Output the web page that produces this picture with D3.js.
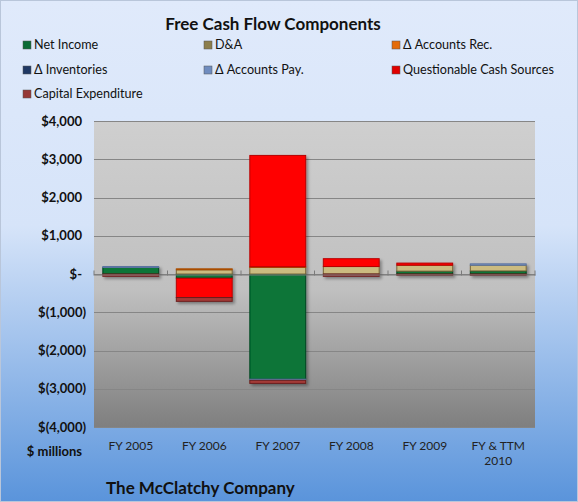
<!DOCTYPE html>
<html>
<head>
<meta charset="utf-8">
<script src="https://cdn.jsdelivr.net/npm/d3@7"></script>
<style>
  body { margin: 0; }
  svg { display: block; font-family: Lato, "Open Sans", sans-serif; }
</style>
</head>
<body>
<div class="container"></div>
<script>
// chart data ($ millions)
const categories = ["FY 2005", "FY 2006", "FY 2007", "FY 2008", "FY 2009", "FY & TTM 2010"]
const seriesNames = ["Net Income", "D&A", "Δ Accounts Rec.", "Δ Inventories", "Δ Accounts Pay.", "Questionable Cash Sources", "Capital Expenditure"]
const netIncome = [170, -110, -2750, 0, 75, 80]
const dna = [0, 110, 170, 195, 155, 150]
const accountsRec = [0, 25, 20, 0, 0, 0]
const inventories = [0, 0, 0, 0, 0, 0]
const accountsPay = [25, 0, -30, 0, 0, 35]
const questionable = [0, -505, 2910, 205, 55, 0]
const capex = [-60, -100, -80, -60, -35, -35]
const yTicks = [4000, 3000, 2000, 1000, 0, -1000, -2000, -3000, -4000]

const seriesValues = [netIncome, dna, accountsRec, inventories, accountsPay, questionable, capex]
const fills = ["#077539", "#cbbb80", "#e46c0a", "#1f3864", "#8aa2cc", "#ff0000", "#a33a38"]
const strokes = ["#03461f", "#776638", "#a84d06", "#10203d", "#5a73a0", "#b80000", "#6b1f1d"]
const legendFills = ["#0b6b35", "#8c7e4c", "#e46c0a", "#1f3864", "#6f8cbf", "#e00000", "#953735"]

const W = 578, H = 502
const margin = { top: 121, left: 94, right: 43, bottom: 75 }
const width = W - margin.left - margin.right
const height = H - margin.top - margin.bottom

const svg = d3.select('.container').append('svg')
  .attr('width', W)
  .attr('height', H)

const defs = svg.append('defs')
const bg = defs.append('linearGradient').attr('id', 'bg').attr('x1', 0).attr('y1', 0).attr('x2', 0).attr('y2', 1)
bg.append('stop').attr('offset', '0%').attr('stop-color', '#e0eafb')
bg.append('stop').attr('offset', '45%').attr('stop-color', '#d6e4f9')
bg.append('stop').attr('offset', '100%').attr('stop-color', '#5a94db')

const plotBg = defs.append('linearGradient').attr('id', 'plotbg').attr('x1', 0).attr('y1', 0).attr('x2', 0).attr('y2', 1)
plotBg.append('stop').attr('offset', '0%').attr('stop-color', '#cfcfcf')
plotBg.append('stop').attr('offset', '55%').attr('stop-color', '#c0c0c0')
plotBg.append('stop').attr('offset', '100%').attr('stop-color', '#7f7f7f')

defs.append('filter').attr('id', 'shadow').attr('x', '-20%').attr('y', '-20%').attr('width', '140%').attr('height', '140%')
  .append('feDropShadow').attr('dx', 2).attr('dy', 2).attr('stdDeviation', 1.5)
  .attr('flood-color', '#000').attr('flood-opacity', 0.35)

// outer background
svg.append('rect')
  .attr('x', 0.5).attr('y', 0.5)
  .attr('width', W - 1).attr('height', H - 1)
  .attr('fill', 'url(#bg)')
  .attr('stroke', '#b9c6da')

// title
svg.append('text')
  .attr('x', 273).attr('y', 30)
  .attr('text-anchor', 'middle')
  .style('font-size', '17px').style('font-weight', 'bold')
  .attr('fill', '#111')
  .text('Free Cash Flow Components')

// legend
const legendX = [23, 204, 392]
const legendY = [45, 70, 94]
const legend = svg.append('g').attr('id', 'legend')
  .selectAll('g')
  .data(seriesNames)
  .join('g')
  .attr('transform', (d, i) => `translate(${legendX[i % 3]}, ${legendY[Math.floor(i / 3)]})`)
legend.append('rect')
  .attr('x', 0).attr('y', -4)
  .attr('width', 8).attr('height', 8)
  .attr('fill', (d, i) => legendFills[i])
  .attr('stroke', '#555').attr('stroke-width', 0.5)
legend.append('text')
  .attr('x', 11).attr('dy', '0.35em')
  .style('font-size', '12.6px')
  .attr('fill', '#111')
  .text(d => d)

const g = svg.append('g').attr('transform', `translate(${margin.left}, ${margin.top})`)

const x = d3.scaleBand().domain(categories).range([0, width]).paddingInner(0.24).paddingOuter(0.12)
const y = d3.scaleLinear().domain([-4000, 4000]).range([height, 0])

g.append('rect')
  .attr('width', width).attr('height', height)
  .attr('fill', 'url(#plotbg)')

// gridlines
g.append('g').selectAll('line')
  .data(yTicks)
  .join('line')
  .attr('x1', 0).attr('x2', width)
  .attr('y1', d => Math.round(y(d)) + 0.5).attr('y2', d => Math.round(y(d)) + 0.5)
  .attr('stroke', '#868686')

// y tick labels, accounting style
const fmt = d3.format(',')
const yLabel = d => d === 0 ? '$-' : d < 0 ? `$(${fmt(-d)})` : `$${fmt(d)}`
svg.append('g').selectAll('text')
  .data(yTicks)
  .join('text')
  .attr('x', d => d < 0 ? 86 : 82)
  .attr('y', d => margin.top + y(d))
  .attr('dy', '0.35em')
  .attr('text-anchor', 'end')
  .style('font-size', '13px').style('font-weight', 'bold')
  .attr('fill', '#111')
  .text(yLabel)

// stacked bars
const table = categories.map((c, i) => {
  const row = { category: c }
  seriesNames.forEach((s, j) => row[s] = seriesValues[j][i])
  return row
})
const stacked = d3.stack().keys(seriesNames).offset(d3.stackOffsetDiverging)(table)

const bars = g.append('g').attr('filter', 'url(#shadow)')
bars.selectAll('g')
  .data(stacked)
  .join('g')
  .attr('fill', (d, i) => fills[i])
  .attr('stroke', (d, i) => strokes[i])
  .selectAll('rect')
  .data(d => d.filter(p => p[1] !== p[0]))
  .join('rect')
  .attr('x', d => x(d.data.category))
  .attr('width', x.bandwidth())
  .attr('y', d => y(Math.max(d[0], d[1])))
  .attr('height', d => Math.abs(y(d[0]) - y(d[1])))
  .attr('stroke-width', 1)

// x axis at zero
const xAxis = d3.axisBottom(x).tickSize(0).tickFormat('')
const axisG = g.append('g')
  .attr('transform', `translate(0, ${Math.round(y(0)) + 0.5})`)
  .call(xAxis)
axisG.select('.domain').attr('stroke', '#7a7a7a')
axisG.selectAll('.boundary')
  .data(d3.range(categories.length + 1))
  .join('line')
  .attr('class', 'boundary')
  .attr('x1', i => i * x.step()).attr('x2', i => i * x.step())
  .attr('y1', -4).attr('y2', 1)
  .attr('stroke', '#7a7a7a')

// category labels
const catLabels = svg.append('g').selectAll('text')
  .data(categories)
  .join('text')
  .attr('x', d => margin.left + x(d) + x.bandwidth() / 2)
  .attr('y', 450)
  .attr('text-anchor', 'middle')
  .style('font-size', '12px')
  .attr('fill', '#222')
catLabels.each(function (d) {
  const t = d3.select(this)
  const parts = d === 'FY & TTM 2010' ? ['FY & TTM', '2010'] : [d]
  parts.forEach((p, k) => t.append('tspan')
    .attr('x', margin.left + x(d) + x.bandwidth() / 2)
    .attr('dy', k === 0 ? 0 : 15)
    .text(p))
})

svg.append('text')
  .attr('x', 82).attr('y', 456)
  .attr('text-anchor', 'end')
  .style('font-size', '13px').style('font-weight', 'bold')
  .attr('fill', '#111')
  .text('$ millions')

svg.append('text')
  .attr('x', 106).attr('y', 494)
  .style('font-size', '17px').style('font-weight', 'bold')
  .attr('fill', '#111')
  .text('The McClatchy Company')
</script>
</body>
</html>
